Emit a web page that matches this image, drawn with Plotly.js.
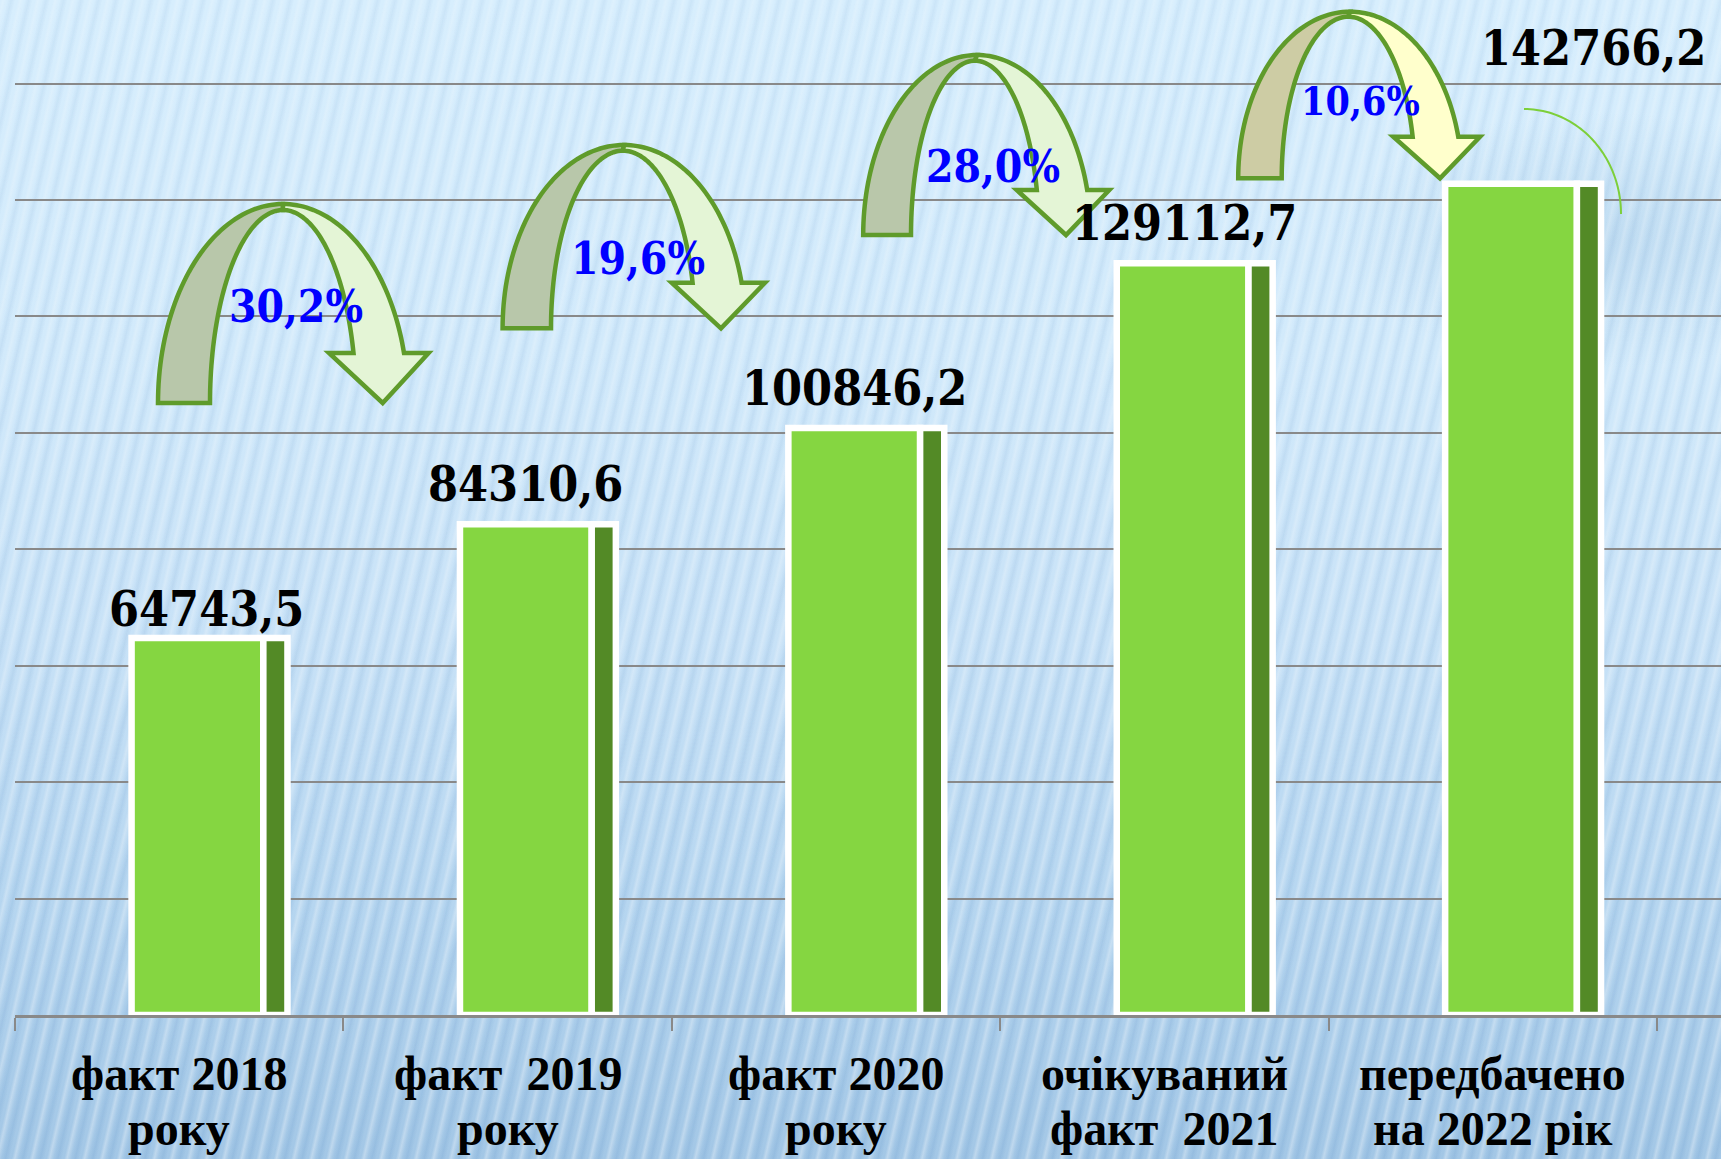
<!DOCTYPE html>
<html>
<head>
<meta charset="utf-8">
<script src="https://cdn.plot.ly/plotly-3.0.1.min.js"></script>
<style>
html, body { margin: 0; padding: 0; }
#wrap { position: relative; width: 1721px; height: 1159px; overflow: hidden;
  background: linear-gradient(to bottom, #d7eefd 0%, #d2eafb 30%, #c8e2f7 55%, #b6d6f0 78%, #a3c7e6 100%); }
#glow { position: absolute; left: 1330px; top: 110px; width: 391px; height: 260px;
  background: radial-gradient(ellipse at 70% 50%, rgba(120,165,205,0.22), rgba(120,165,205,0) 70%); }
#stripes { position: absolute; left: 0; top: 0; width: 1721px; height: 1159px;
  background: repeating-linear-gradient(103deg,
      rgba(255,255,255,0) 0px, rgba(255,255,255,0.30) 3px, rgba(255,255,255,0) 7px,
      rgba(60,120,185,0.12) 11px, rgba(60,120,185,0) 15px, rgba(255,255,255,0) 17px);
  -webkit-mask-image: linear-gradient(to bottom, rgba(0,0,0,0.6), rgba(0,0,0,1));
  mask-image: linear-gradient(to bottom, rgba(0,0,0,0.6), rgba(0,0,0,1)); }
#chart { position: absolute; left: 0; top: 0; width: 1721px; height: 1159px; }
</style>
</head>
<body>
<div id="wrap"><div id="glow"></div><div id="stripes"></div><div id="chart"></div></div>
<script>
// ---------------- data ----------------
const categoryLine1 = ['факт 2018', 'факт  2019', 'факт 2020', 'очікуваний', 'передбачено'];
const categoryLine2 = ['року', 'року', 'року', 'факт  2021', 'на 2022 рік'];
const values = [64743.5, 84310.6, 100846.2, 129112.7, 142766.2];
const valueLabels = ['64743,5', '84310,6', '100846,2', '129112,7', '142766,2'];
const growthLabels = ['30,2%', '19,6%', '28,0%', '10,6%'];

// ---------------- layout constants ----------------
const W = 1721, H = 1159;
const M = { l: 15, r: 0, t: 2, b: 144 };
const PW = W - M.l - M.r, PH = H - M.t - M.b;
const fx = p => (p - M.l) / PW;           // pixel x -> paper
const fy = p => (H - M.b - p) / PH;       // pixel y -> paper
const keepSpaces = s => s.replace(/  /g, '\u00a0 ');

const categories = categoryLine1.map((s, i) => s + ' ' + categoryLine2[i]);

const GRID = '#898989';
const LIGHT = '#85d641', DARK = '#538a26';

const traces = [
  { type: 'bar', x: categories, y: values, offset: -0.145, width: 0.4012,
    marker: { color: LIGHT, line: { color: '#ffffff', width: 6.5 } }, hoverinfo: 'skip' },
  { type: 'bar', x: categories, y: values, offset: 0.2562, width: 0.0735,
    marker: { color: DARK, line: { color: '#ffffff', width: 6.5 } }, hoverinfo: 'skip' }
];

// ---------------- annotations ----------------
const annotations = [];
const valueShift = [[27.5, 29.1], [17.7, 40.0], [18.5, 40.2], [20.1, 40.0], [100.5, 135.5]];
valueLabels.forEach((t, i) => annotations.push({
  text: t, x: i, xref: 'x', y: values[i], yref: 'y', xshift: valueShift[i][0], yshift: valueShift[i][1],
  xanchor: 'center', yanchor: 'middle', showarrow: false,
  font: { family: 'DejaVu Serif Condensed, DejaVu Serif, serif', size: 48, color: '#000000', weight: 'bold' }
}));
categoryLine1.forEach((t, i) => {
  annotations.push({ text: keepSpaces(t), x: i, xref: 'x', y: fy(1073.4), yref: 'paper',
    xanchor: 'center', yanchor: 'middle', showarrow: false,
    font: { family: 'Liberation Serif, Times New Roman, serif', size: 48, color: '#000000', weight: 'bold' } });
  annotations.push({ text: keepSpaces(categoryLine2[i]), x: i, xref: 'x', y: fy(1128.6), yref: 'paper',
    xanchor: 'center', yanchor: 'middle', showarrow: false,
    font: { family: 'Liberation Serif, Times New Roman, serif', size: 48, color: '#000000', weight: 'bold' } });
});
const growthPos = [[295.6, 306, 44], [638, 258, 44], [993, 167, 44], [1360.5, 100.5, 39]];
growthLabels.forEach((t, i) => annotations.push({
  text: t, x: fx(growthPos[i][0]), xref: 'paper', y: fy(growthPos[i][1]), yref: 'paper',
  xanchor: 'center', yanchor: 'middle', showarrow: false,
  font: { family: 'DejaVu Serif Condensed, DejaVu Serif, serif', size: growthPos[i][2], color: '#0000ff', weight: 'bold' }
}));

// ---------------- decorative U-turn arrows (pixel geometry) ----------------
const arrows = [
  { cxo: 283,  rxo: 125,   top: 204,  cxi: 283,    rxi: 73,   topIn: 210,   bottom: 403,   headY: 353,   headL: 329,    headR: 428.6, tipX: 382.7,  back: '#b8c7aa', front: '#e4f5d6' },
  { cxo: 624,  rxo: 121.4, top: 145,  cxi: 623,    rxi: 72,   topIn: 150.7, bottom: 328.3, headY: 282.7, headL: 671.7,  headR: 765,   tipX: 721,    back: '#b8c7aa', front: '#e4f5d6' },
  { cxo: 977,  rxo: 113.8, top: 55,   cxi: 975,    rxi: 64,   topIn: 60.7,  bottom: 235,   headY: 190,   headL: 1016.7, headR: 1109.3, tipX: 1066,  back: '#b9c7aa', front: '#e4f5d6' },
  { cxo: 1350, rxo: 111.8, top: 11.7, cxi: 1348.3, rxi: 66.6, topIn: 16.7,  bottom: 178.3, headY: 136.7, headL: 1393.3, headR: 1480,  tipX: 1440,   back: '#cdcca4', front: '#ffffcc' }
];
const toPath = pts => 'M' + pts.map(p => fx(p[0]).toFixed(5) + ',' + fy(p[1]).toFixed(5)).join(' L') + ' Z';
const N = 48;
const shapes = [];
arrows.forEach(a => {
  const ryo = a.bottom - a.top, ryi = a.bottom - a.topIn;
  const back = [];
  for (let k = 0; k <= N; k++) { const t = k / N * Math.PI / 2; back.push([a.cxo - a.rxo * Math.cos(t), a.bottom - ryo * Math.sin(t)]); }
  for (let k = N; k >= 0; k--) { const t = k / N * Math.PI / 2; back.push([a.cxi - a.rxi * Math.cos(t), a.bottom - ryi * Math.sin(t)]); }
  const front = [];
  const tho = Math.asin((a.bottom - a.headY) / ryo), thi = Math.asin((a.bottom - a.headY) / ryi);
  for (let k = 0; k <= N; k++) { const t = Math.PI / 2 - k / N * (Math.PI / 2 - tho); front.push([a.cxo + a.rxo * Math.cos(t), a.bottom - ryo * Math.sin(t)]); }
  front.push([a.headR, a.headY], [a.tipX, a.bottom], [a.headL, a.headY]);
  for (let k = 0; k <= N; k++) { const t = thi + k / N * (Math.PI / 2 - thi); front.push([a.cxi + a.rxi * Math.cos(t), a.bottom - ryi * Math.sin(t)]); }
  shapes.push({ type: 'path', xref: 'paper', yref: 'paper', layer: 'above', path: toPath(back),
    fillcolor: a.back, line: { color: '#5f9b2b', width: 4.5 } });
  shapes.push({ type: 'path', xref: 'paper', yref: 'paper', layer: 'above', path: toPath(front),
    fillcolor: a.front, line: { color: '#5f9b2b', width: 4.5 } });
});
// thin decorative arc beside the last bar
const arc = [];
for (let k = 0; k <= N; k++) { const t = k / N * Math.PI / 2; arc.push([1524 + 97 * Math.sin(t), 214 - 105 * Math.cos(t)]); }
shapes.push({ type: 'path', xref: 'paper', yref: 'paper', layer: 'above',
  path: 'M' + arc.map(p => fx(p[0]).toFixed(5) + ',' + fy(p[1]).toFixed(5)).join(' L'),
  fillcolor: 'rgba(0,0,0,0)', line: { color: '#7dcf3a', width: 2 } });

const layout = {
  width: W, height: H, margin: M,
  paper_bgcolor: 'rgba(0,0,0,0)', plot_bgcolor: 'rgba(0,0,0,0)',
  barmode: 'overlay', showlegend: false,
  xaxis: { type: 'category', range: [-0.5, 4.695], showticklabels: false, showgrid: false, zeroline: false,
    showline: true, linecolor: GRID, linewidth: 3, ticks: 'outside', tickson: 'boundaries',
    ticklen: 13, tickwidth: 2, tickcolor: GRID, layer: 'below traces', fixedrange: true },
  yaxis: { range: [0, 174000], dtick: 20000, showticklabels: false, showgrid: true, gridcolor: GRID,
    gridwidth: 2, zeroline: false, showline: false, ticks: '', layer: 'below traces', fixedrange: true },
  annotations: annotations,
  shapes: shapes
};
Plotly.newPlot('chart', traces, layout, { displayModeBar: false, staticPlot: true });
</script>
</body>
</html>
